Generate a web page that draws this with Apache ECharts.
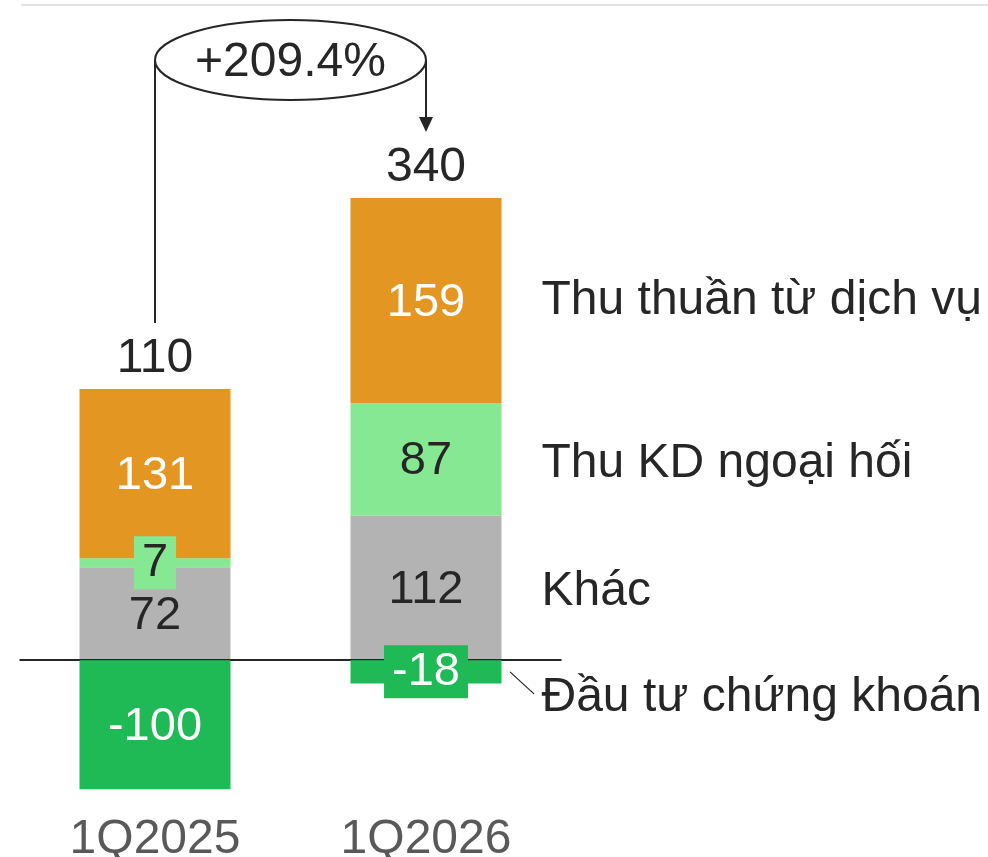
<!DOCTYPE html>
<html>
<head>
<meta charset="utf-8">
<title>Thu nhập ngoài lãi</title>
<script src="https://cdn.jsdelivr.net/npm/echarts@6/dist/echarts.min.js"></script>
<style>
  html, body { margin: 0; padding: 0; background: #fff; }
  #chart { width: 988px; height: 857px; }
</style>
</head>
<body>
<div id="chart"></div>
<script>
// du lieu
const categories = ['1Q2025', '1Q2026']
const khac = [72, 112]
const ngoaiHoi = [7, 87]
const dichVu = [131, 159]
const dauTu = [-100, -18]
const growthText = '+209.4%'

const seriesNames = ['Khác', 'Thu KD ngoại hối', 'Thu thuần từ dịch vụ', 'Đầu tư chứng khoán']
const colors = ['#b3b3b3', '#86e892', '#e39621', '#1fba55']

const FONT = '"Liberation Sans", Arial, sans-serif'
const TEXT = '#262626'
const FS = 48

// tong = cong tat ca cac phan
const totals = categories.map((c, i) => khac[i] + ngoaiHoi[i] + dichVu[i] + dauTu[i])
// dinh cot duong
const posTop = categories.map((c, i) => khac[i] + ngoaiHoi[i] + dichVu[i])

const chart = echarts.init(document.getElementById('chart'))

function barBase(name, data, color, labelColor) {
  return {
    name: name,
    type: 'bar',
    stack: 'val',
    barWidth: 151,
    barGap: '-100%',
    data: data,
    itemStyle: { color: color },
    label: {
      show: true,
      position: 'inside',
      offset: [0, 2],
      fontSize: 47,
      fontFamily: FONT,
      color: labelColor
    }
  }
}

// nhan co nen (doan qua mong)
function boxed(v, color) {
  return { value: v, label: { offset: [0, 0], backgroundColor: color, padding: [5, 8, 1, 8] } }
}

// nhan ten nhom ben phai cot 1Q2026 (cot trong suot)
function nameSeries(name, data, dy) {
  return {
    name: name,
    type: 'bar',
    stack: 'names',
    barWidth: 151,
    barGap: '-100%',
    silent: true,
    data: data.map((v, i) => ({
      value: v,
      label: { show: i === data.length - 1, offset: [0, dy] }
    })),
    itemStyle: { color: 'rgba(0,0,0,0)' },
    label: {
      position: 'right',
      distance: 40,
      fontSize: FS,
      fontFamily: FONT,
      color: TEXT,
      formatter: '{a}'
    }
  }
}

const sKhac = barBase(seriesNames[0], khac, colors[0], TEXT)
sKhac.markLine = {
  silent: true,
  symbol: ['none', 'none'],
  label: { show: false },
  lineStyle: { color: TEXT, width: 2, type: 'solid' },
  data: [{ yAxis: 0 }]
}

// 1Q2025 qua mong -> nhan co nen
const sNgoaiHoi = barBase(seriesNames[1], ngoaiHoi.map((v, i) => (i === 0 ? boxed(v, colors[1]) : v)), colors[1], TEXT)

const sDichVu = barBase(seriesNames[2], dichVu, colors[2], '#fff')

const sDauTu = barBase(seriesNames[3], dauTu.map((v, i) => (i === 1 ? boxed(v, colors[3]) : v)), colors[3], '#fff')
sDauTu.z = 6

// cot 0 de hien tong
const sTotal = {
  name: 'Tổng',
  type: 'bar',
  stack: 'val',
  barWidth: 151,
  barGap: '-100%',
  silent: true,
  data: categories.map(() => 0),
  itemStyle: { color: 'rgba(0,0,0,0)' },
  label: {
    show: true,
    position: 'top',
    distance: 6,
    fontSize: FS,
    fontFamily: FONT,
    color: TEXT,
    formatter: (p) => String(totals[p.dataIndex])
  }
}

chart.setOption({
  animation: false,
  grid: { left: 19.5, top: 143.8, width: 542, height: 645.5, outerBoundsMode: 'none' },
  xAxis: {
    type: 'category',
    data: categories,
    axisLine: { show: false },
    axisTick: { show: false },
    axisLabel: { fontSize: FS, fontFamily: FONT, color: '#595959', margin: 26 }
  },
  yAxis: {
    type: 'value',
    min: -100,
    max: 400,
    show: false,
    splitLine: { show: false }
  },
  series: [
    sKhac, sNgoaiHoi, sDichVu, sTotal, sDauTu,
    nameSeries(seriesNames[0], khac, 4),
    nameSeries(seriesNames[1], ngoaiHoi, 4),
    nameSeries(seriesNames[2], dichVu, 0),
    nameSeries(seriesNames[3], dauTu, 26)
  ]
})

// chu thich tang truong: elip + mui ten
const p0 = chart.convertToPixel({ seriesIndex: 0 }, [0, posTop[0]])
const p1 = chart.convertToPixel({ seriesIndex: 0 }, [1, posTop[1]])
// diem giua doan "Dau tu" cua 1Q2026
const pd = chart.convertToPixel({ seriesIndex: 0 }, [1, dauTu[1] / 2])
const cx = (p0[0] + p1[0]) / 2
const cy = 60
const rx = (p1[0] - p0[0]) / 2
const tipY = p1[1] - 66

chart.setOption({
  graphic: [
    {
      type: 'line',
      shape: { x1: 21, y1: 5, x2: 988, y2: 5 },
      style: { stroke: '#e3e3e3', lineWidth: 2 }
    },
    {
      type: 'polyline',
      shape: { points: [[p0[0], cy], [p0[0], p0[1] - 66]] },
      style: { stroke: TEXT, lineWidth: 2, fill: null }
    },
    {
      type: 'polyline',
      shape: { points: [[p1[0], cy], [p1[0], tipY - 14]] },
      style: { stroke: TEXT, lineWidth: 2, fill: null }
    },
    {
      type: 'polygon',
      shape: { points: [[p1[0] - 7, tipY - 15], [p1[0] + 7, tipY - 15], [p1[0], tipY]] },
      style: { fill: TEXT }
    },
    {
      type: 'ellipse',
      shape: { cx: cx, cy: cy, rx: rx, ry: 40 },
      style: { fill: '#fff', stroke: TEXT, lineWidth: 2 }
    },
    {
      type: 'text',
      x: cx,
      y: cy + 3,
      style: {
        text: growthText,
        font: FS + 'px ' + FONT,
        fill: TEXT,
        align: 'center',
        verticalAlign: 'middle'
      }
    },
    // duong dan toi nhan "Dau tu chung khoan"
    {
      type: 'line',
      shape: { x1: p1[0] + 84, y1: pd[1], x2: p1[0] + 108, y2: pd[1] + 22 },
      style: { stroke: TEXT, lineWidth: 1.2 }
    }
  ]
})
</script>
</body>
</html>
